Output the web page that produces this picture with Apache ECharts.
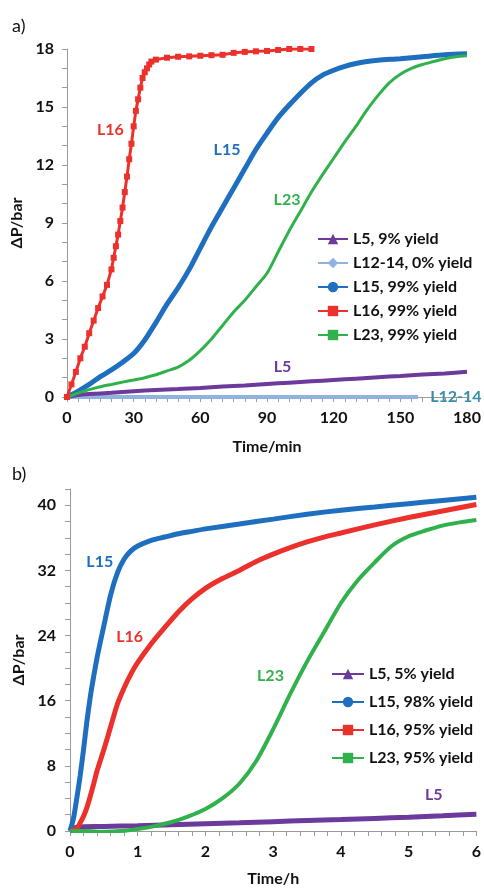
<!DOCTYPE html>
<html><head><meta charset="utf-8">
<script src="https://cdn.jsdelivr.net/npm/echarts@6/dist/echarts.min.js"></script>
<style>html,body{margin:0;padding:0;background:#fff}#c{width:484px;height:888px}</style>
</head><body><div id="c"></div>
<script>
// ---- Panel a) : time in minutes ----
const a_L5_t = [0,5,10,20,30,40,50,60,70,80,90,100,110,120,130,140,150,160,170,180];
const a_L5_v = [0,0.1,0.15,0.22,0.3,0.36,0.41,0.47,0.54,0.6,0.67,0.74,0.81,0.88,0.95,1.02,1.09,1.16,1.22,1.3];
const a_L1214_t = [0,20,40,60,80,100,120,140,158];
const a_L1214_v = [0,0,0,0,0,0,0,0,0];
const a_L15_t = [0,5,10,15,20,25,30,35,40,45,50,55,60,65,70,75,80,85,90,95,100,105,110,115,120,125,130,135,140,150,160,170,180];
const a_L15_v = [0,0.3,0.65,1.05,1.4,1.8,2.25,2.95,3.85,4.8,5.65,6.6,7.7,8.8,9.8,10.8,11.8,12.8,13.65,14.45,15.1,15.7,16.25,16.65,16.9,17.1,17.25,17.35,17.42,17.5,17.6,17.7,17.75];
const a_L16_t = [0,2,4,6,8,10,12,14,16,18,20,21,22,23,24,25,26,27,28,29,30,31,32,33,34,35,36,37,38,40,45,50,55,60,65,70,75,80,85,90,95,100,105,110];
const a_L16_v = [0,0.65,1.3,2.0,2.6,3.3,3.95,4.6,5.2,5.8,6.6,7.2,7.8,8.4,9.1,9.8,10.6,11.4,12.3,13.1,14.0,14.8,15.4,16.0,16.5,16.8,17.0,17.2,17.35,17.45,17.55,17.6,17.62,17.65,17.68,17.7,17.8,17.85,17.88,17.9,17.95,18.0,18.0,18.0];
const a_L23_t = [0,5,10,15,20,25,30,35,40,45,50,55,60,65,70,75,80,85,90,95,100,105,110,115,120,125,130,135,140,145,150,155,160,165,170,175,180];
const a_L23_v = [0,0.2,0.38,0.53,0.65,0.77,0.88,1.0,1.15,1.35,1.55,1.9,2.4,3.0,3.7,4.4,5.0,5.7,6.4,7.5,8.6,9.6,10.6,11.5,12.35,13.2,14.0,14.85,15.6,16.25,16.7,17.0,17.2,17.35,17.5,17.6,17.65];
// ---- Panel b) : time in hours ----
const b_L5_t = [0,0.1,0.5,1,1.5,2,2.5,3,3.5,4,4.5,5,5.5,6];
const b_L5_v = [0,0.45,0.55,0.65,0.78,0.9,1.02,1.15,1.28,1.4,1.55,1.7,1.87,2.05];
const b_L15_t = [0,0.05,0.1,0.15,0.2,0.25,0.3,0.35,0.4,0.45,0.5,0.6,0.7,0.8,0.9,1.0,1.2,1.4,1.6,1.8,2.0,2.5,3.0,3.5,4.0,4.5,5.0,5.5,6.0];
const b_L15_v = [0,1.5,4,6.8,10,13.5,16.5,19,21.3,23.3,25.2,29,31.7,33.4,34.4,35.0,35.7,36.1,36.5,36.8,37.1,37.7,38.3,38.9,39.4,39.8,40.2,40.6,41.0];
const b_L16_t = [0,0.1,0.15,0.2,0.25,0.3,0.35,0.4,0.5,0.6,0.7,0.8,0.9,1.0,1.2,1.4,1.6,1.8,2.0,2.25,2.5,2.75,3.0,3.25,3.5,3.75,4.0,4.5,5.0,5.5,6.0];
const b_L16_v = [0,0.3,1.0,1.8,2.9,4.3,5.8,7.4,10.0,12.8,15.6,17.6,19.3,20.7,23.0,25.0,26.9,28.5,29.8,31.0,32.0,33.1,34.0,34.8,35.5,36.1,36.6,37.6,38.5,39.3,40.1];
const b_L23_t = [0,0.25,0.5,0.75,1.0,1.25,1.5,1.75,2.0,2.25,2.5,2.75,3.0,3.25,3.5,3.75,4.0,4.25,4.5,4.75,5.0,5.25,5.5,5.75,6.0];
const b_L23_v = [0,0,-0.1,0,0.25,0.6,1.1,1.8,2.7,4.0,5.8,8.6,12.5,16.8,20.8,24.4,28.0,30.8,33.0,35.0,36.2,36.9,37.5,37.9,38.2];

const namesA = ['L5, 9% yield','L12-14, 0% yield','L15, 99% yield','L16, 99% yield','L23, 99% yield'];
const namesB = ['L5, 5% yield','L15, 98% yield','L16, 95% yield','L23, 95% yield'];
const xTicksA = [0,30,60,90,120,150,180];
const yTicksA = [0,3,6,9,12,15,18];
const xTicksB = [0,1,2,3,4,5,6];
const yTicksB = [0,8,16,24,32,40];

const C = {purple:'#6B3A9C', lblue:'#8FB2DE', blue:'#1E6FC0', red:'#EC302C', green:'#30B14C', teal:'#3A8EA8'};
const zip = (t,v) => t.map((x,i)=>[x,v[i]]);
const FF = 'Lato, "Open Sans", sans-serif';

function ann(text, color, coord){
  return {silent:true, symbol:'circle', symbolSize:2, itemStyle:{color:'rgba(0,0,0,0)'},
    label:{show:true, position:'inside', formatter:text, color:color, fontFamily:FF, fontWeight:'bold', fontSize:16},
    data:[{coord:coord}]};
}
function axisCommon(){
  return {
    axisLine:{show:true,onZero:false,lineStyle:{color:'#9a9a9a',width:1}},
    axisTick:{show:true,inside:false,length:5,lineStyle:{color:'#9a9a9a'}},
    splitLine:{show:false},
    axisLabel:{color:'#111',fontFamily:FF,fontWeight:'bold',fontSize:16,margin:13},
    nameTextStyle:{color:'#111',fontFamily:FF,fontWeight:'bold',fontSize:16},
  };
}
const sm = {smooth:0.25};

const option = {
  animation:false,
  backgroundColor:'#fff',
  graphic:[
    {type:'text',left:12,top:17,style:{text:'a)',font:'18px '+FF,fill:'#111'}},
    {type:'text',left:12,top:465,style:{text:'b)',font:'18px '+FF,fill:'#111'}}
  ],
  grid:[
    {left:67,top:49,width:400,height:348},
    {left:70,top:489,width:408,height:345}
  ],
  legend:[
    {data:namesA, orient:'vertical', left:312, top:226, itemGap:8, itemWidth:30, itemHeight:13,
     textStyle:{fontFamily:FF,fontWeight:'bold',fontSize:16,color:'#111'}},
    {data:namesB, orient:'vertical', left:326, top:661, itemGap:12, itemWidth:32, itemHeight:13,
     textStyle:{fontFamily:FF,fontWeight:'bold',fontSize:16,color:'#111'}}
  ],
  xAxis:[
    Object.assign(axisCommon(),{gridIndex:0,type:'value',min:xTicksA[0],max:xTicksA[xTicksA.length-1],interval:30,
      minorTick:{show:true,splitNumber:6,length:5,lineStyle:{color:'#9a9a9a'}},
      name:'Time/min',nameLocation:'middle',nameGap:42}),
    Object.assign(axisCommon(),{gridIndex:1,type:'value',min:xTicksB[0],max:xTicksB[xTicksB.length-1],interval:1,
      minorTick:{show:true,splitNumber:5,length:5,lineStyle:{color:'#9a9a9a'}},
      name:'Time/h',nameLocation:'middle',nameGap:40})
  ],
  yAxis:[
    Object.assign(axisCommon(),{gridIndex:0,type:'value',min:yTicksA[0],max:yTicksA[yTicksA.length-1],interval:3,
      minorTick:{show:true,splitNumber:3,length:5,lineStyle:{color:'#9a9a9a'}},
      name:'ΔP/bar',nameLocation:'middle',nameRotate:90,nameGap:26}),
    Object.assign(axisCommon(),{gridIndex:1,type:'value',min:0,max:42,interval:8,
      axisLabel:{color:'#111',fontFamily:FF,fontWeight:'bold',fontSize:16,margin:14,showMaxLabel:false},
      minorTick:{show:true,splitNumber:4,length:5,lineStyle:{color:'#9a9a9a'}},
      name:'ΔP/bar',nameLocation:'middle',nameRotate:90,nameGap:32})
  ],
  series:[
    Object.assign({name:namesA[0],type:'line',xAxisIndex:0,yAxisIndex:0,data:zip(a_L5_t,a_L5_v),color:C.purple,
     lineStyle:{width:4},symbol:'triangle',symbolSize:7,showSymbol:false,z:3,
     markPoint:ann('L5',C.purple,[97,1.55])},sm),
    {name:namesA[1],type:'line',xAxisIndex:0,yAxisIndex:0,data:zip(a_L1214_t,a_L1214_v),color:C.lblue,
     lineStyle:{width:4},symbol:'diamond',symbolSize:5,showSymbol:false,z:2,
     markPoint:ann('L12-14',C.teal,[175,0])},
    Object.assign({name:namesA[2],type:'line',xAxisIndex:0,yAxisIndex:0,data:zip(a_L15_t,a_L15_v),color:C.blue,
     lineStyle:{width:5},symbol:'circle',symbolSize:7,showSymbol:false,z:4,
     markPoint:ann('L15',C.blue,[72,12.8])},sm),
    {name:namesA[3],type:'line',xAxisIndex:0,yAxisIndex:0,data:zip(a_L16_t,a_L16_v),color:C.red,
     lineStyle:{width:3},symbol:'rect',symbolSize:6,showSymbol:true,z:5,
     markPoint:ann('L16',C.red,[19.5,13.8])},
    Object.assign({name:namesA[4],type:'line',xAxisIndex:0,yAxisIndex:0,data:zip(a_L23_t,a_L23_v),color:C.green,
     lineStyle:{width:3},symbol:'rect',symbolSize:[7,3],showSymbol:false,z:4,
     markPoint:ann('L23',C.green,[99,10.2])},sm),

    Object.assign({name:namesB[0],type:'line',xAxisIndex:1,yAxisIndex:1,data:zip(b_L5_t,b_L5_v),color:C.purple,
     lineStyle:{width:5},symbol:'triangle',symbolSize:7,showSymbol:false,z:3,
     markPoint:ann('L5',C.purple,[5.37,4.5])},sm),
    Object.assign({name:namesB[1],type:'line',xAxisIndex:1,yAxisIndex:1,data:zip(b_L15_t,b_L15_v),color:C.blue,
     lineStyle:{width:5},symbol:'circle',symbolSize:7,showSymbol:false,z:4,
     markPoint:ann('L15',C.blue,[0.44,33])},sm),
    Object.assign({name:namesB[2],type:'line',xAxisIndex:1,yAxisIndex:1,data:zip(b_L16_t,b_L16_v),color:C.red,
     lineStyle:{width:5},symbol:'rect',symbolSize:7,showSymbol:false,z:4,
     markPoint:ann('L16',C.red,[0.88,23.8])},sm),
    Object.assign({name:namesB[3],type:'line',xAxisIndex:1,yAxisIndex:1,data:zip(b_L23_t,b_L23_v),color:C.green,
     lineStyle:{width:4},symbol:'rect',symbolSize:[7,3],showSymbol:false,z:4,
     markPoint:ann('L23',C.green,[2.96,19])},sm)
  ]
};
const chart = echarts.init(document.getElementById('c'),null,{renderer:'canvas'});
chart.setOption(option);
</script></body></html>
